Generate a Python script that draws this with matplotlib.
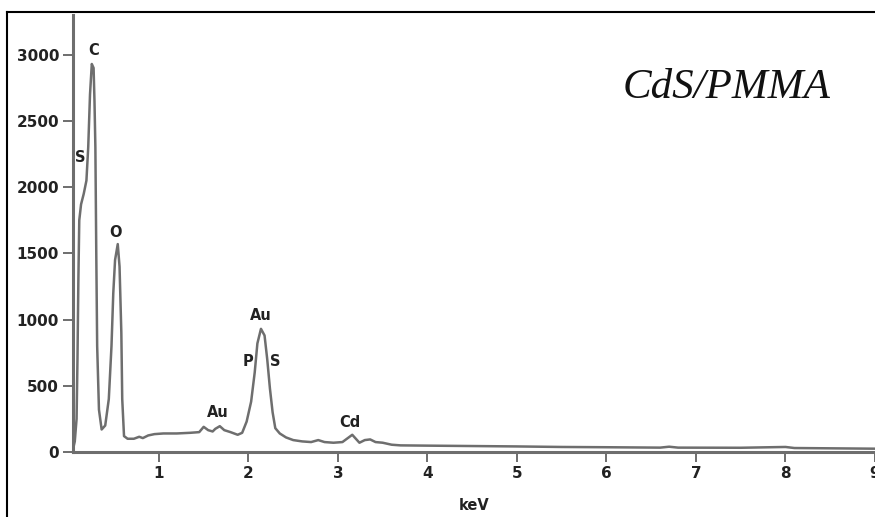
import matplotlib
matplotlib.use("Agg")
import matplotlib.pyplot as plt
from matplotlib.lines import Line2D

# EDX spectrum (keV, counts)
energy = [0.04, 0.06, 0.08, 0.09, 0.10, 0.11, 0.13, 0.16, 0.19, 0.21, 0.23, 0.25,
          0.27, 0.28, 0.29, 0.30, 0.31, 0.33, 0.36, 0.40, 0.44, 0.47, 0.49, 0.51,
          0.54, 0.56, 0.58, 0.59, 0.61, 0.65, 0.72, 0.78, 0.82, 0.88, 0.95, 1.05,
          1.20, 1.35, 1.45, 1.50, 1.55, 1.60, 1.63, 1.68, 1.73, 1.80, 1.88, 1.93,
          1.98, 2.03, 2.07, 2.10, 2.14, 2.18, 2.21, 2.24, 2.27, 2.30, 2.35, 2.42,
          2.50, 2.60, 2.70, 2.78, 2.85, 2.95, 3.05, 3.12, 3.16, 3.20, 3.24, 3.30,
          3.36, 3.42, 3.50, 3.60, 3.70, 4.00, 4.50, 5.00, 5.50, 6.00, 6.60, 6.70,
          6.80, 7.50, 8.00, 8.10, 9.00]
counts = [20, 80, 250, 700, 1300, 1750, 1870, 1950, 2050, 2300, 2700, 2930,
          2900, 2650, 2300, 1500, 800, 320, 170, 200, 400, 800, 1200, 1450,
          1570, 1400, 900, 400, 120, 100, 100, 115, 105, 125, 135, 140,
          140, 145, 150, 190, 165, 155, 175, 195, 165, 150, 130, 145,
          230, 380, 600, 820, 930, 880, 700, 480, 300, 180, 140, 110,
          90, 80, 75, 90, 75, 70, 75, 110, 130, 100, 70, 90,
          95, 75, 70, 55, 50, 48, 45, 42, 38, 36, 33, 40,
          33, 32, 38, 30, 25]

# peak labels: (text, keV, counts at label centre)
peak_labels = [("C", 0.27, 3030), ("S", 0.12, 2225), ("O", 0.52, 1660),
               ("Au", 2.14, 1030), ("P", 2.0, 680), ("S", 2.3, 680),
               ("Au", 1.66, 300), ("Cd", 3.13, 220)]

yticks = [0, 500, 1000, 1500, 2000, 2500, 3000]
xticks = [1, 2, 3, 4, 5, 6, 7, 8, 9]

fig = plt.figure(figsize=(8.75, 5.17), dpi=100)
ax = fig.add_axes([73 / 875, 1 - 452 / 517, 802 / 875, 437 / 517])

gray = "#6e6e6e"
ax.plot(energy, counts, color=gray, linewidth=1.8)

ax.set_xlim(0.04, 9.0)
ax.set_ylim(0, 3300)
ax.set_xticks(xticks)
ax.set_yticks(yticks)

for side in ["top", "right"]:
    ax.spines[side].set_visible(False)
for side in ["left", "bottom"]:
    ax.spines[side].set_color(gray)
    ax.spines[side].set_linewidth(2.2)

ax.tick_params(axis="both", direction="out", length=7, width=1.2, color="#555555",
               labelsize=11, labelcolor="#222222", pad=3)
for lab in ax.get_xticklabels() + ax.get_yticklabels():
    lab.set_fontweight("bold")

ax.set_xlabel("keV", fontsize=10.5, fontweight="bold", color="#222222", labelpad=12)

for txt, xk, yc in peak_labels:
    ax.text(xk, yc, txt, fontsize=10.5, fontweight="bold", color="#222222",
            ha="center", va="center")

ax.text(0.815, 0.833, "CdS/PMMA", transform=ax.transAxes, fontsize=31,
        family="Liberation Serif", style="italic", color="#111111",
        ha="center", va="center")

# outer frame (left and top edges visible in the picture)
fig.add_artist(Line2D([7 / 875, 7 / 875], [0, 1 - 12 / 517], transform=fig.transFigure,
                      color="black", linewidth=1.5))
fig.add_artist(Line2D([7 / 875, 1], [1 - 12 / 517, 1 - 12 / 517], transform=fig.transFigure,
                      color="black", linewidth=1.5))

fig.savefig("out.png", dpi=100)
